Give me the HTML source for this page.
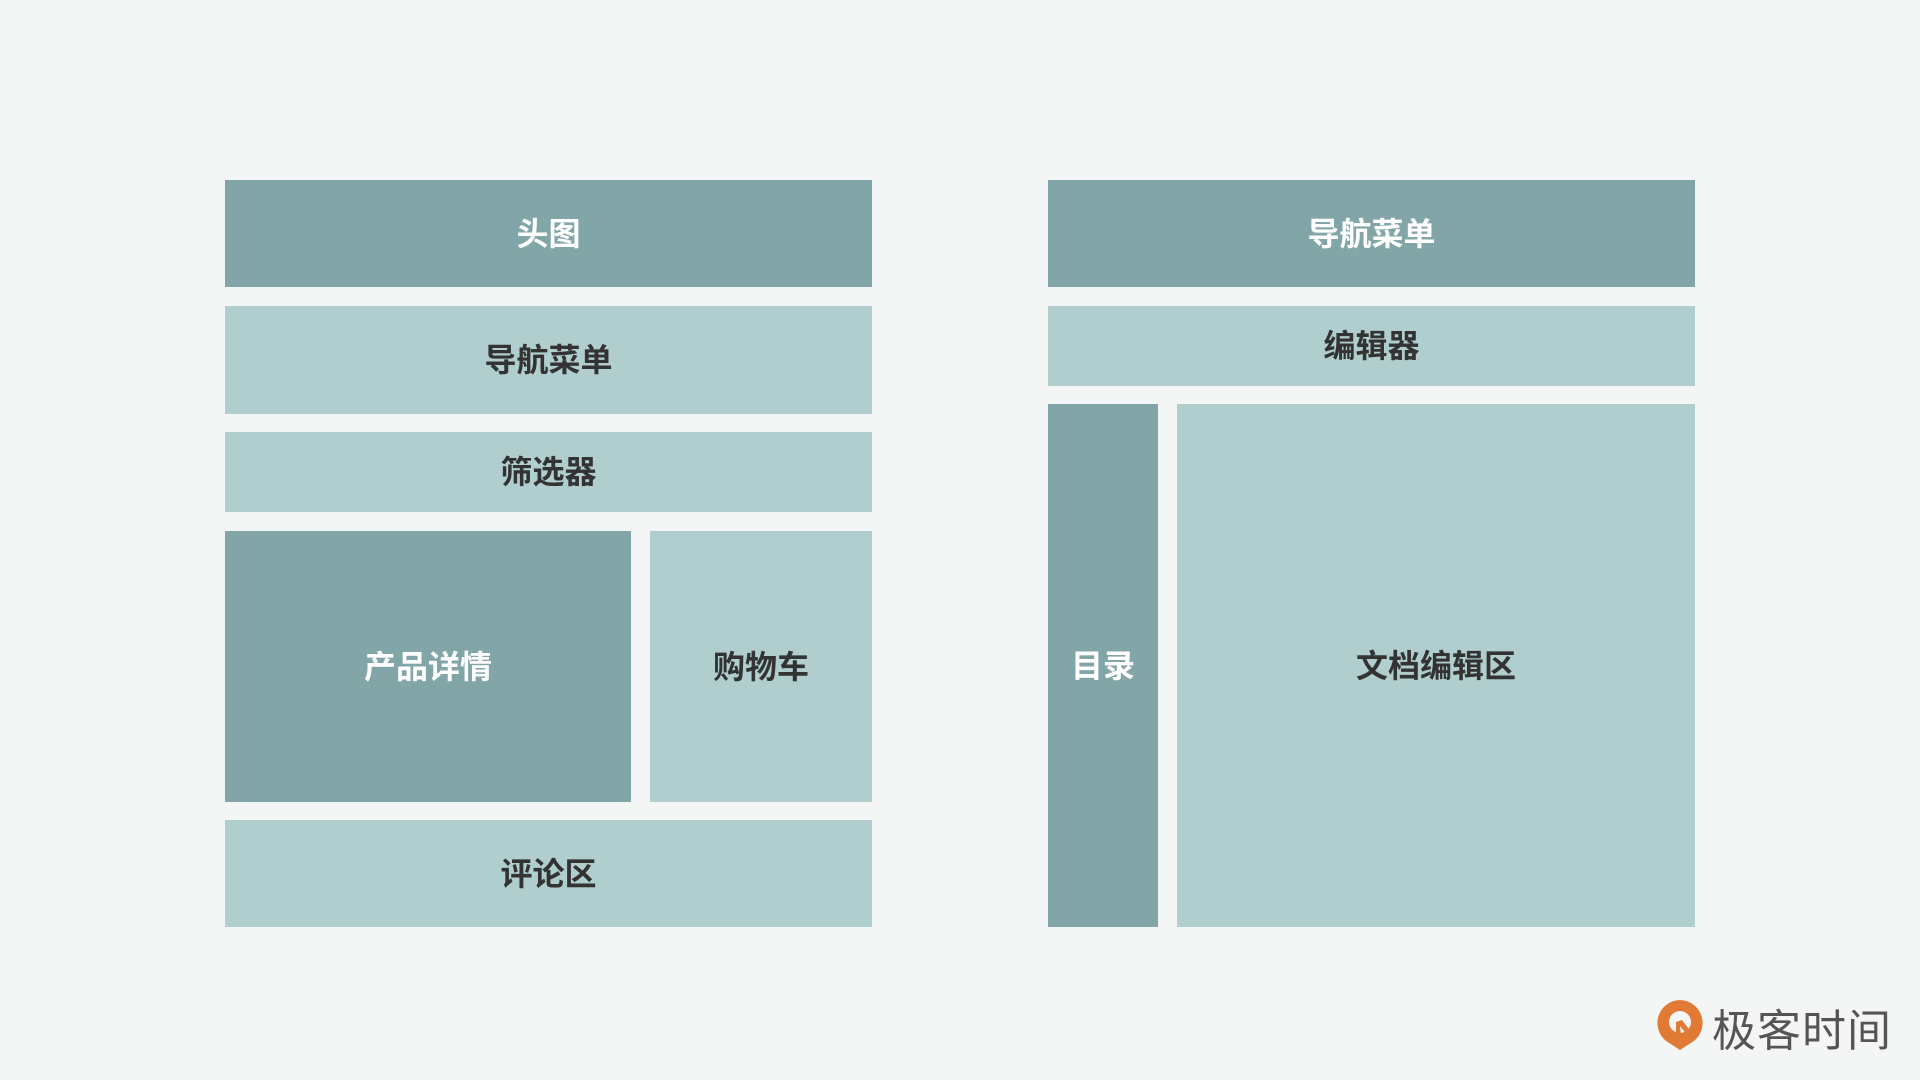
<!DOCTYPE html>
<html><head><meta charset="utf-8"><style>
body{margin:0;width:1920px;height:1080px;background:#f4f6f5;position:relative;overflow:hidden;font-family:"Liberation Sans","Noto Sans CJK SC",sans-serif;}
.b{position:absolute;display:flex;align-items:center;justify-content:center;font-weight:bold;font-size:32px;padding-bottom:4px;box-sizing:border-box;}
.d{background:#82a6a7;color:#fff}
.l{background:#b0cece;color:#333}
</style></head><body>
<div class="b d" style="left:225px;top:180px;width:647px;height:107px">头图</div>
<div class="b l" style="left:225px;top:306px;width:647px;height:108px">导航菜单</div>
<div class="b l" style="left:225px;top:432px;width:647px;height:80px">筛选器</div>
<div class="b d" style="left:225px;top:531px;width:406px;height:271px">产品详情</div>
<div class="b l" style="left:650px;top:531px;width:222px;height:271px">购物车</div>
<div class="b l" style="left:225px;top:820px;width:647px;height:107px">评论区</div>
<div class="b d" style="left:1048px;top:180px;width:647px;height:107px">导航菜单</div>
<div class="b l" style="left:1048px;top:306px;width:647px;height:80px">编辑器</div>
<div class="b d" style="left:1048px;top:404px;width:110px;height:523px">目录</div>
<div class="b l" style="left:1177px;top:404px;width:518px;height:523px">文档编辑区</div>
<svg style="position:absolute;left:1655px;top:998px" width="50" height="58" viewBox="0 0 50 58">
<path d="M25 2a23 23 0 0 1 10 43.5L25 52 15 45.5A23 23 0 0 1 25 2z" fill="#e07a35"/>
<circle cx="25" cy="24" r="11" fill="#f4f6f5"/>
<path d="M21 24v22h6l-2-18 8 10 4-3-10-13z" fill="#e07a35"/>
</svg>
<div style="position:absolute;left:1712px;top:995px;font-size:44px;color:#555;letter-spacing:1px;font-family:'Noto Sans CJK SC',sans-serif">极客时间</div>
</body></html>
